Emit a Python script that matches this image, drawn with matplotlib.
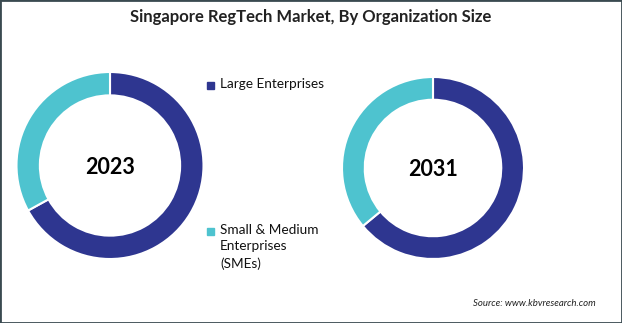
import matplotlib.pyplot as plt
from matplotlib.patches import Rectangle

plt.rcParams['font.family'] = ['Lato', 'DejaVu Sans']

segments = ['Large Enterprises', 'Small & Medium\nEnterprises\n(SMEs)']
years = ['2023', '2031']
shares_2023 = [67, 33]
shares_2031 = [64, 36]
colors = ['#2E3690', '#4EC3CF']

W, H = 622, 323
fig = plt.figure(figsize=(W / 100, H / 100), dpi=100)

# donut axes placed by pixel centre and radius
def donut(cx, cy, r, values, label):
    ax = fig.add_axes([(cx - r) / W, (H - cy - r) / H, 2 * r / W, 2 * r / H])
    ax.pie(values, colors=colors, startangle=90, counterclock=False,
           radius=1, wedgeprops=dict(width=0.25, edgecolor='white', linewidth=1.5))
    ax.set_xlim(-1, 1)
    ax.set_ylim(-1, 1)
    ax.set_aspect('auto')
    ax.text(0, -0.02, label, ha='center', va='center', fontsize=15.5, fontweight='bold')
    ax.axis('off')

donut(110, 165.5, 93.5, shares_2023, years[0])
donut(433, 168, 91, shares_2031, years[1])

fig.text(0.5, 1 - 17 / H, 'Singapore RegTech Market, By Organization Size',
         ha='center', va='center', fontsize=12, fontweight='bold', color='#222222')

# legend drawn by hand
for seg, col, y in zip(segments, colors, [85, 231]):
    fig.patches.append(Rectangle(((207) / W, (H - y - 3.5) / H), 7 / W, 7 / H,
                                 transform=fig.transFigure, color=col))
    fig.text(220 / W, 1 - (y - 7) / H, seg, ha='left', va='top',
             fontsize=9.8, linespacing=1.45, color='#111111')

fig.text(596 / W, 1 - 304 / H, 'Source: www.kbvresearch.com', ha='right', va='center',
         fontsize=6.9, style='italic', color='#222222')

fig.patches.append(Rectangle((0, 0), 1, 1, transform=fig.transFigure, fill=False,
                             edgecolor='#3a4a50', linewidth=2))

fig.savefig('out.png', dpi=100)
